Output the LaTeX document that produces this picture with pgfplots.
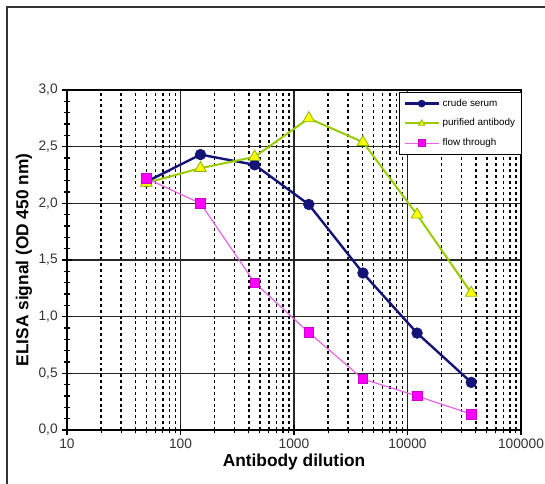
\documentclass[border=0pt]{standalone}
\usepackage{pgfplots}
\pgfplotsset{compat=1.18}
\usepackage{fontspec}
\setmainfont{Liberation Sans}

\definecolor{crude}{RGB}{20,20,120}
\definecolor{purline}{RGB}{153,204,0}
\definecolor{purfill}{RGB}{255,255,0}
\definecolor{flowline}{RGB}{230,100,230}
\definecolor{flowfill}{RGB}{255,0,255}

\begin{document}
\begin{tikzpicture}
\useasboundingbox (0,0) rectangle (408.75pt,363pt);
\draw[line width=1.1pt, black!80] (5.25pt,0) -- (5.25pt,357.75pt) -- (408.75pt,357.75pt);
\begin{axis}[at={(50.25pt,40.5pt)}, anchor=south west,
  width=340.5pt, height=255pt, scale only axis,
  xmode=log, log basis x=10, xmin=10, xmax=100000, ymin=0, ymax=3,
  xtick={10,100,1000,10000,100000}, xticklabels={10,100,1000,10000,100000},
  minor xtick={20,30,40,50,60,70,80,90,200,300,400,500,600,700,800,900,
    2000,3000,4000,5000,6000,7000,8000,9000,20000,30000,40000,50000,60000,70000,80000,90000},
  ytick={0,0.5,...,3}, minor y tick num=4,
  yticklabel style={/pgf/number format/.cd, use comma, fixed, fixed zerofill, precision=1, assume math mode=true},
  ticklabel style={font=\fontsize{10.3}{12}\selectfont, text=black!80},
  xtick pos=bottom, ytick pos=left, tick align=center,
  major tick length=7pt, minor tick length=5pt,
  tick style={black, line width=0.8pt},
  xmajorgrids=true, ymajorgrids=true, xminorgrids=true,
  major grid style={black!85, line width=0.8pt},
  minor grid style={black, line width=1.1pt, dash pattern=on 2.2pt off 2.2pt},
  axis line style={black, line width=0.9pt},
  xlabel={Antibody dilution}, ylabel={ELISA signal (OD 450 nm)},
  label style={font=\bfseries\fontsize{13}{15}\selectfont},
  xlabel style={yshift=3pt}, ylabel style={yshift=-2pt},
  legend style={at={(1.003,0.995)}, anchor=north east, draw=black, line width=1pt,
    font=\fontsize{7.4}{9}\selectfont, fill=white, inner sep=3pt,
    row sep=4pt, cells={anchor=west}},
  legend image code/.code={
    \draw[mark size=2.6pt, mark repeat=2, mark phase=2] plot coordinates {(0cm,0cm) (0.45cm,0cm) (0.9cm,0cm)};},
]
\addplot[crude, line width=1.8pt, mark=*, mark size=4pt, mark options={fill=crude, draw=crude, line width=0.5pt}]
  coordinates {(50,2.19)(150,2.43)(450,2.34)(1350,1.99)(4050,1.385)(12150,0.855)(36450,0.42)};
\addlegendentry{crude serum}
\addplot[purline, line width=1.5pt, mark=triangle*, mark size=5pt, mark options={fill=purfill, draw=purline!90!black, line width=0.6pt}]
  coordinates {(50,2.18)(150,2.31)(450,2.41)(1350,2.75)(4050,2.54)(12150,1.9)(36450,1.21)};
\addlegendentry{purified antibody}
\addplot[flowline, line width=0.9pt, mark=square*, mark size=3.6pt, mark options={fill=flowfill, draw=flowfill!80!black, line width=0.5pt}]
  coordinates {(50,2.22)(150,2.0)(450,1.3)(1350,0.86)(4050,0.45)(12150,0.3)(36450,0.14)};
\addlegendentry{flow through}
\end{axis}
\end{tikzpicture}
\end{document}
